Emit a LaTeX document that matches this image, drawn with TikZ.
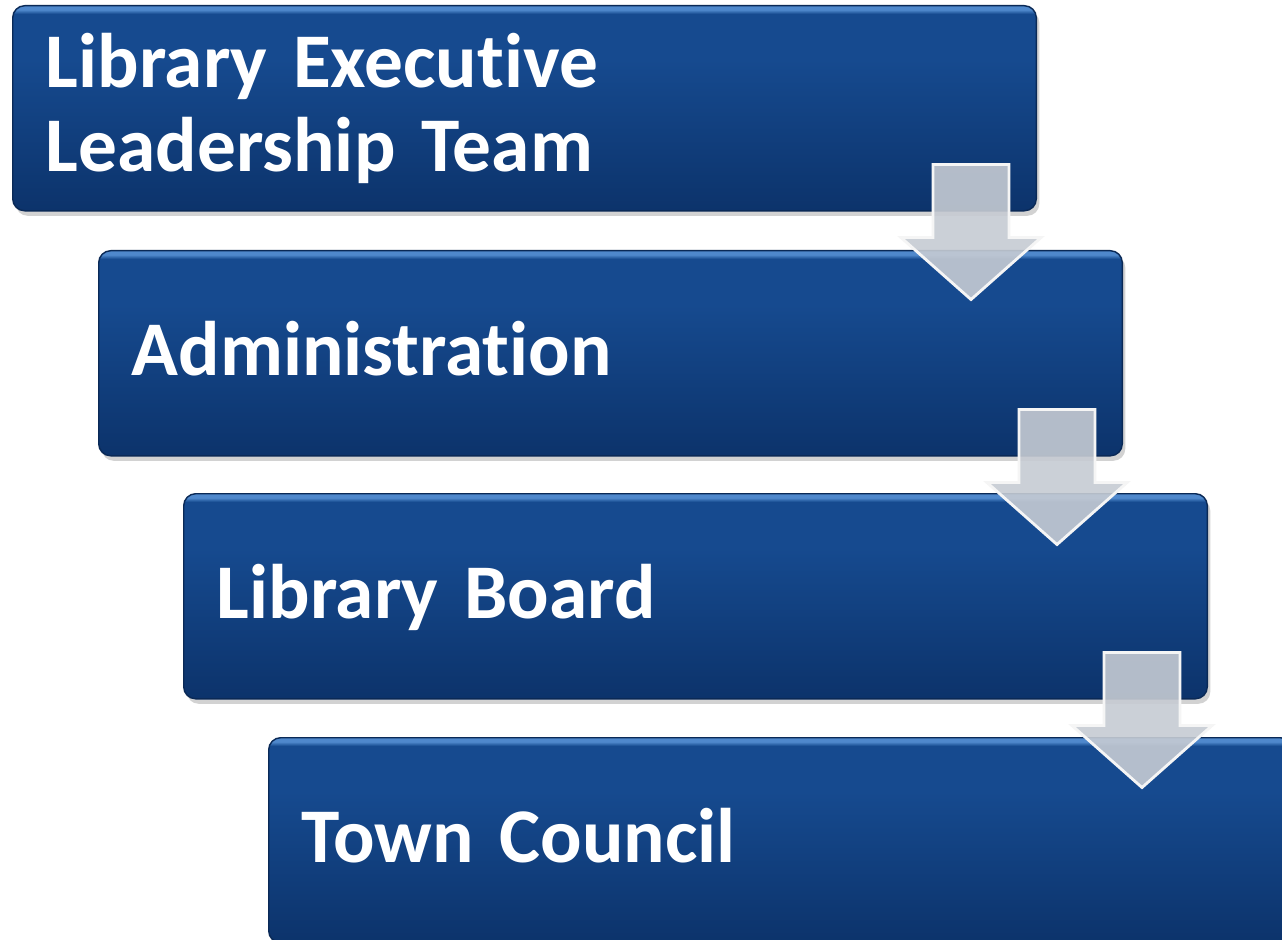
\documentclass[tikz,border=0pt]{standalone}
\usepackage{fontspec}
\setmainfont{Carlito}[Ligatures=NoCommon, WordSpace=0.6]
\usetikzlibrary{shadows}
\definecolor{boxtop}{HTML}{164A8F}
\definecolor{boxbot}{HTML}{0C336B}
\definecolor{boxhi}{HTML}{4F88CC}
\definecolor{arrowgray}{HTML}{C6CBD3}
\pgfdeclareverticalshading{boxshade}{100bp}{color(0bp)=(boxbot); color(25bp)=(boxbot); color(62bp)=(boxtop); color(73bp)=(boxtop); color(74bp)=(boxhi); color(75bp)=(boxhi); color(100bp)=(boxhi)}
\tikzset{
  stage/.style={anchor=north west, shading=boxshade, draw=boxbot!80!black, line width=0.4pt,
    rounded corners=0.12cm, minimum width=10.23cm, minimum height=2.05cm,
    text width=9.57cm, inner xsep=0.33cm, align=left, text=white,
    font=\fontsize{22}{24}\selectfont\bfseries,
    drop shadow={opacity=0.35, shadow xshift=0.03cm, shadow yshift=-0.05cm}},
  oneline/.style={stage, text height=0.66cm, text depth=0.22cm},
  flow/.style={fill=arrowgray, fill opacity=0.9, draw=white!92!gray, line width=0.8pt, line join=miter}
}
\newcommand\flowarrow[1]{
  \begin{scope}[shift={(#1.south east)}]
    \draw[flow] (-104,-47) -- (-28,-47) -- (-28,26) -- (4,26) -- (-66,88) -- (-136,26) -- (-104,26) -- cycle;
  \end{scope}
}
\begin{document}
\begin{tikzpicture}[x=0.01cm, y=-0.01cm]
  \clip (0,0) rectangle (1282,940);
  \fill[white] (0,0) rectangle (1282,940);
  \node[stage] (exec) at (12,5) {Library Executive\\Leadership Team};
  \node[oneline] (admin) at (98,250) {Administration};
  \node[oneline] (board) at (183,493) {Library Board};
  \node[oneline] (council) at (268,737) {Town Council};
  \flowarrow{exec}
  \flowarrow{admin}
  \flowarrow{board}
\end{tikzpicture}
\end{document}
